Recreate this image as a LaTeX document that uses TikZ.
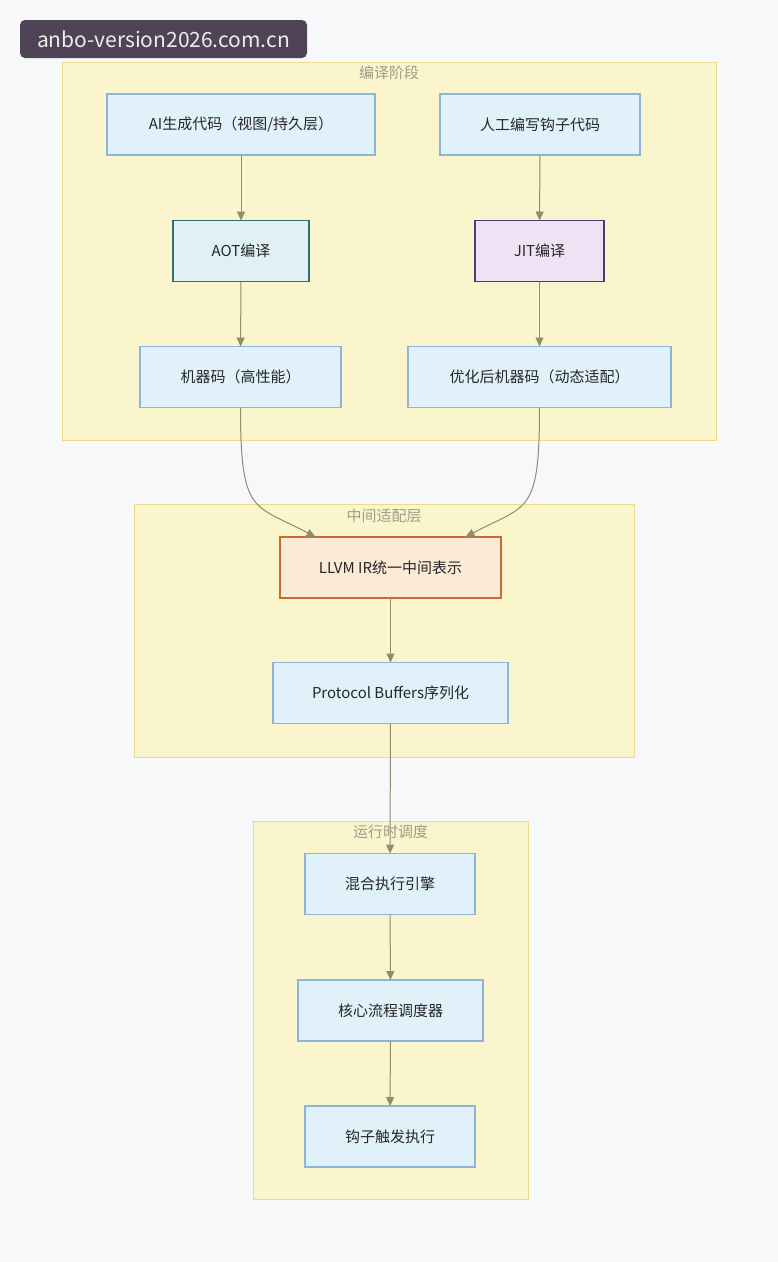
\documentclass[tikz,border=0pt]{standalone}
\usepackage{fontspec}
\setmainfont{Noto Sans CJK SC}
\usepackage{tikz}
\usetikzlibrary{arrows.meta,positioning}
\definecolor{bgcol}{HTML}{F7F8FA}
\definecolor{clfill}{HTML}{FBF5CD}
\definecolor{cldraw}{HTML}{EFD98F}
\definecolor{bluefill}{HTML}{E1F1FA}
\definecolor{bluedraw}{HTML}{8FB3DA}
\definecolor{aotdraw}{HTML}{2F6F73}
\definecolor{aotfill}{HTML}{E0F1F5}
\definecolor{jitdraw}{HTML}{4B3A78}
\definecolor{jitfill}{HTML}{EEE2F4}
\definecolor{irdraw}{HTML}{C86A32}
\definecolor{irfill}{HTML}{FAEAD6}
\definecolor{edgecol}{HTML}{8F8C6F}
\definecolor{titlecol}{HTML}{A19C88}
\definecolor{markfill}{HTML}{4F4456}

\begin{document}
\begin{tikzpicture}
 [x=1pt,y=-1pt,
 font=\fontsize{15}{18}\selectfont,
 cluster/.style={draw=cldraw,fill=clfill,line width=1pt,outer sep=0pt},
 cltitle/.style={text=titlecol,inner sep=0pt},
 box/.style={draw=bluedraw,fill=bluefill,line width=1.2pt,minimum height=61,outer sep=0pt,text=black!85},
 aot/.style={box,draw=aotdraw,fill=aotfill},
 jit/.style={box,draw=jitdraw,fill=jitfill},
 ir/.style={box,draw=irdraw,fill=irfill},
 flow/.style={draw=edgecol,line width=1pt,-{Triangle[length=9pt,width=8pt]}}]
\useasboundingbox[fill=bgcol] (0,0) rectangle (778,1262);

\node (mark) at (163.5,39) [fill=markfill,rounded corners=5pt,minimum width=287,minimum height=38,text=white!93!black,font=\fontsize{21}{24}\selectfont] {anbo-version2026.com.cn};

\node (c1) at (389,251) [cluster,minimum width=654,minimum height=378] {};
\node (t1) at (389,73) [cltitle] {编译阶段};
\node (c2) at (384,630.5) [cluster,minimum width=500,minimum height=253] {};
\node (t2) at (384,516) [cltitle] {中间适配层};
\node (c3) at (390.5,1010) [cluster,minimum width=275,minimum height=378] {};
\node (t3) at (390.5,832) [cltitle] {运行时调度};

\node (ai) at (241,124.5) [box,minimum width=268] {AI生成代码（视图/持久层）};
\node (hook) at (540,124.5) [box,minimum width=200] {人工编写钩子代码};
\node (aotc) at (241,251) [aot,minimum width=136] {AOT编译};
\node (jitc) at (539.5,251) [jit,minimum width=129] {JIT编译};
\node (mc) at (240.5,377) [box,minimum width=201] {机器码（高性能）};
\node (omc) at (539.5,377) [box,minimum width=263] {优化后机器码（动态适配）};
\node (llvm) at (390.5,567.5) [ir,minimum width=221] {LLVM IR统一中间表示};
\node (pb) at (390.5,693) [box,minimum width=235] {Protocol Buffers序列化};
\node (mix) at (390,884) [box,minimum width=170] {混合执行引擎};
\node (core) at (390.5,1010.5) [box,minimum width=185] {核心流程调度器};
\node (trig) at (390,1136.5) [box,minimum width=170] {钩子触发执行};

\draw[flow] (ai) -- (aotc);
\draw[flow] (hook) -- (jitc);
\draw[flow] (aotc) -- (mc);
\draw[flow] (jitc) -- (omc);
\draw[flow] (mc.south) .. controls +(0,108) and +(-62,-33) .. ([xshift=-75pt]llvm.north);
\draw[flow] (omc.south) .. controls +(0,108) and +(62,-33) .. ([xshift=75pt]llvm.north);
\draw[flow] (llvm) -- (pb);
\draw[flow] (pb) -- (mix);
\draw[flow] (mix) -- (core);
\draw[flow] (core) -- (trig);
\end{tikzpicture}
\end{document}
